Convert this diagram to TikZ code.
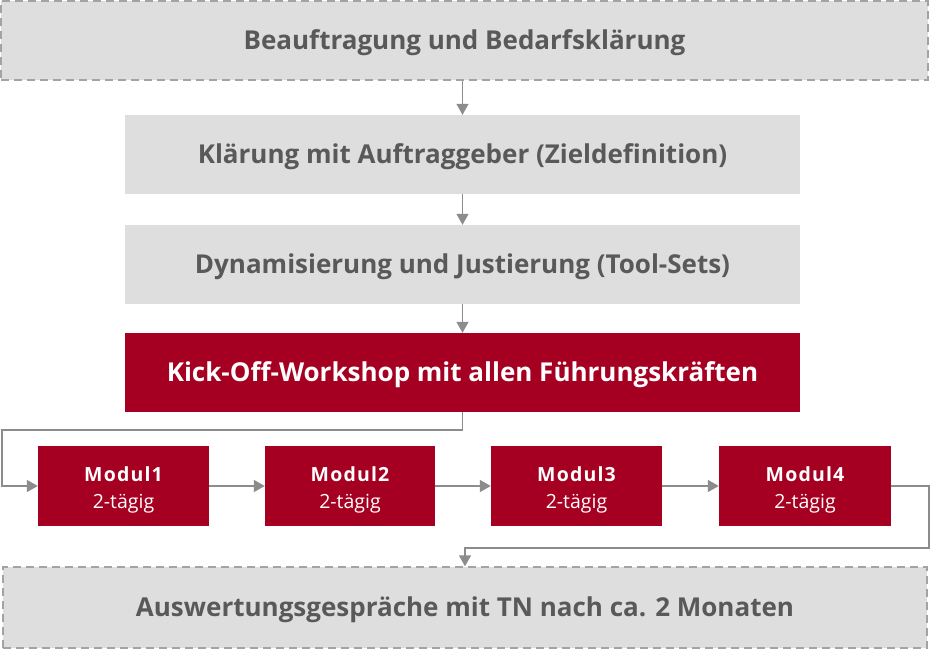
\documentclass[tikz,border=0pt]{standalone}
\usepackage{fontspec}
\setmainfont{Open Sans}
\usetikzlibrary{arrows.meta}
\definecolor{boxgray}{HTML}{DEDEDE}
\definecolor{bordergray}{HTML}{A3A3A3}
\definecolor{txtgray}{HTML}{595959}
\definecolor{darkred}{HTML}{A50021}
\definecolor{linegray}{HTML}{8C8C8C}
\begin{document}
\begin{tikzpicture}[x=1pt,y=-1pt,
  mainfont/.style={font=\bfseries\fontsize{26}{30}\selectfont, text height=18.6pt, text depth=0pt},
  graybox/.style={fill=boxgray, draw=none, minimum width=675pt, minimum height=79pt, inner sep=0pt, text=txtgray, mainfont},
  dashbox/.style={graybox, draw=bordergray, line width=1.5pt, dash pattern=on 8pt off 5pt},
  redbox/.style={fill=darkred, draw=none, minimum width=675pt, minimum height=79pt, inner sep=0pt, text=white, mainfont},
  modbox/.style={fill=darkred, draw=none, minimum height=80pt, inner sep=0pt, text=white, align=center, font=\fontsize{19.5}{27}\selectfont, text height=44pt, text depth=0pt},
  arr/.style={draw=linegray, line width=1.5pt, -{Triangle[width=12pt,length=11pt]}},
  conn/.style={draw=linegray, line width=1.5pt}
]
\useasboundingbox (0,0) rectangle (930,649);
\fill[white] (0,0) rectangle (930,649);
\node[dashbox, minimum width=927pt] (b1) at (464.5,40.5) {Beauftragung und Bedarfsklärung};
\node[graybox] (b2) at (462.5,154.5) {Klärung mit Auftraggeber (Zieldefinition)};
\node[graybox] (b3) at (462.5,264.5) {Dynamisierung und Justierung (Tool-Sets)};
\node[redbox] (b4) at (462.5,372.5) {Kick-Off-Workshop mit allen Führungskräften};
\node[modbox, minimum width=171pt] (m1) at (123.5,486) {{\bfseries\addfontfeatures{LetterSpace=6}Modul1}\\2-tägig};
\node[modbox, minimum width=170pt] (m2) at (350,486) {{\bfseries\addfontfeatures{LetterSpace=6}Modul2}\\2-tägig};
\node[modbox, minimum width=171pt] (m3) at (576.5,486) {{\bfseries\addfontfeatures{LetterSpace=6}Modul3}\\2-tägig};
\node[modbox, minimum width=172pt] (m4) at (805,486) {{\bfseries\addfontfeatures{LetterSpace=6}Modul4}\\2-tägig};
\node[dashbox, minimum width=924pt, minimum height=81pt] (b5) at (465,607.5) {Auswertungsgespräche mit TN nach ca. 2 Monaten};
\coordinate (cl) at (2,430);
\coordinate (cr) at (929,548);
\draw[arr] (b1.south -| b2.north) -- (b2.north);
\draw[arr] (b2.south) -- (b3.north);
\draw[arr] (b3.south) -- (b4.north);
\draw[arr] (b4.south) |- (cl) |- (m1.west);
\draw[arr] (m1.east) -- (m2.west);
\draw[arr] (m2.east) -- (m3.west);
\draw[arr] (m3.east) -- (m4.west);
\draw[arr] (m4.east) -| (cr) -| (b5.north);
\end{tikzpicture}
\end{document}
